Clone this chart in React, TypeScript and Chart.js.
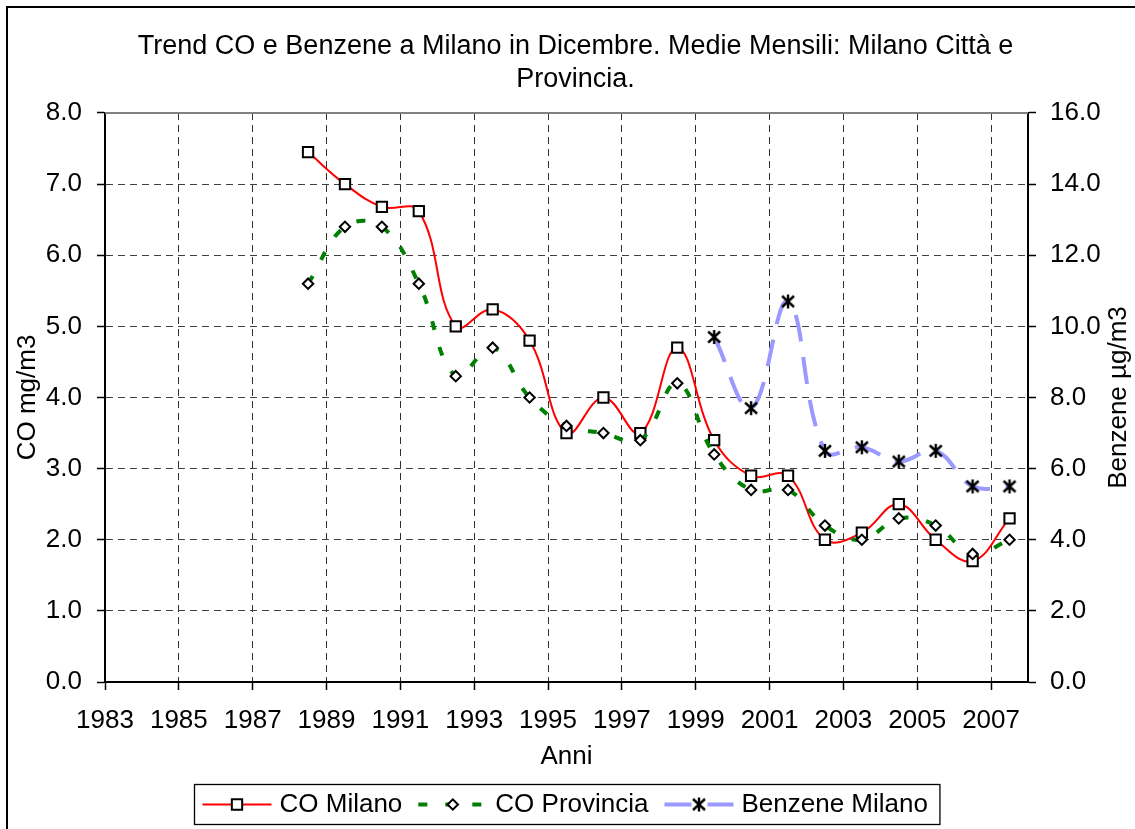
import React, { useEffect, useRef } from 'react';
import { Chart, registerables } from 'chart.js';

Chart.register(...registerables);

// ---- Data ----
const coYears = [1988, 1989, 1990, 1991, 1992, 1993, 1994, 1995, 1996, 1997, 1998, 1999, 2000, 2001, 2002, 2003, 2004, 2005, 2006, 2007];
const coMilano = [7.45, 7.0, 6.68, 6.62, 5.0, 5.24, 4.8, 3.5, 4.0, 3.5, 4.7, 3.4, 2.9, 2.9, 2.0, 2.1, 2.5, 2.0, 1.7, 2.3];
const coProvincia = [5.6, 6.4, 6.4, 5.6, 4.3, 4.7, 4.0, 3.6, 3.5, 3.4, 4.2, 3.2, 2.7, 2.7, 2.2, 2.0, 2.3, 2.2, 1.8, 2.0];
const benzeneYears = [1999, 2000, 2001, 2002, 2003, 2004, 2005, 2006, 2007];
const benzeneMilano = [9.7, 7.7, 10.7, 6.5, 6.6, 6.2, 6.5, 5.5, 5.5];
const xTickYears = [1983, 1985, 1987, 1989, 1991, 1993, 1995, 1997, 1999, 2001, 2003, 2005, 2007];
const titleLines = ['Trend CO e Benzene a Milano in Dicembre. Medie Mensili: Milano Città e', 'Provincia.'];
const seriesLabels = ['CO Milano', 'CO Provincia', 'Benzene Milano'];
const xTitle = 'Anni';
const yLeftTitle = 'CO mg/m3';
const yRightTitle = 'Benzene µg/m3';

// monthly December means are plotted at mid-year of their year
const MID_YEAR = 0.5;

const FONT = '"Liberation Sans", Arial, Helvetica, sans-serif';

function makeStarCanvas(): HTMLCanvasElement {
  const c = document.createElement('canvas');
  c.width = 16;
  c.height = 16;
  const g = c.getContext('2d')!;
  g.strokeStyle = '#000';
  g.lineWidth = 2.4;
  g.beginPath();
  g.moveTo(2, 2.5); g.lineTo(14, 13.5);
  g.moveTo(14, 2.5); g.lineTo(2, 13.5);
  g.moveTo(8, 1); g.lineTo(8, 15);
  g.stroke();
  return c;
}

function drawMarker(ctx: CanvasRenderingContext2D, ds: any, x: number, y: number) {
  const style = ds.pointStyle;
  const r = ds.pointRadius;
  if (style instanceof HTMLCanvasElement) {
    ctx.drawImage(style, x - style.width / 2, y - style.height / 2);
    return;
  }
  ctx.save();
  ctx.setLineDash([]);
  ctx.fillStyle = ds.pointBackgroundColor;
  ctx.strokeStyle = ds.pointBorderColor;
  ctx.lineWidth = ds.pointBorderWidth;
  ctx.beginPath();
  if (style === 'rect') {
    const s = Math.SQRT1_2 * r;
    ctx.rect(x - s, y - s, 2 * s, 2 * s);
  } else {
    ctx.moveTo(x - r, y);
    ctx.lineTo(x, y - r);
    ctx.lineTo(x + r, y);
    ctx.lineTo(x, y + r);
    ctx.closePath();
  }
  ctx.fill();
  ctx.stroke();
  ctx.restore();
}

const excelPlugin = {
  id: 'excelDecor',
  beforeDatasetsDraw(chart: any) {
    const { ctx, chartArea } = chart;
    ctx.save();
    ctx.strokeStyle = '#808080';
    ctx.lineWidth = 2;
    ctx.beginPath();
    ctx.moveTo(chartArea.left, chartArea.top);
    ctx.lineTo(chartArea.right, chartArea.top);
    ctx.stroke();
    ctx.restore();
  },
  afterDraw(chart: any) {
    const { ctx, chartArea } = chart;
    // right axis title (reads bottom-to-top)
    ctx.save();
    ctx.font = `26px ${FONT}`;
    ctx.fillStyle = '#000';
    ctx.textAlign = 'center';
    ctx.textBaseline = 'middle';
    ctx.translate(1119, (chartArea.top + chartArea.bottom) / 2);
    ctx.rotate(-Math.PI / 2);
    ctx.fillText(yRightTitle, 0, 0);
    ctx.restore();

    // legend box
    ctx.save();
    ctx.font = `26px ${FONT}`;
    const dss = chart.data.datasets;
    const widths = dss.map((d: any) => ctx.measureText(d.label).width);
    const lineLen = 69, gap = 8, spacing = 16, padL = 8, padR = 12;
    let total = padL + padR + spacing * (dss.length - 1);
    widths.forEach((w: number) => { total += lineLen + gap + w; });
    const cx = (chartArea.left + chartArea.right) / 2;
    const left = Math.round(cx - total / 2) + 0.5;
    const top = 784.5;
    const h = 40;
    ctx.fillStyle = '#fff';
    ctx.fillRect(left, top, total, h);
    ctx.strokeStyle = '#000';
    ctx.lineWidth = 1.3;
    ctx.strokeRect(left, top, total, h);
    const cy = top + h / 2;
    let x = left + padL;
    dss.forEach((d: any, i: number) => {
      ctx.save();
      ctx.strokeStyle = d.borderColor;
      ctx.lineWidth = d.borderWidth;
      ctx.setLineDash(d.borderDash || []);
      ctx.beginPath();
      ctx.moveTo(x, cy);
      ctx.lineTo(x + lineLen, cy);
      ctx.stroke();
      ctx.restore();
      drawMarker(ctx, d, x + lineLen / 2, cy);
      ctx.fillStyle = '#000';
      ctx.textAlign = 'left';
      ctx.textBaseline = 'middle';
      ctx.fillText(d.label, x + lineLen + gap, cy);
      x += lineLen + gap + widths[i] + spacing;
    });
    ctx.restore();
  },
};

export default function App() {
  const ref = useRef<HTMLCanvasElement | null>(null);

  useEffect(() => {
    if (!ref.current) return;
    const star = makeStarCanvas();
    const chart = new Chart(ref.current, {
      type: 'line',
      data: {
        datasets: [
          {
            label: seriesLabels[0],
            data: coYears.map((yr, i) => ({ x: yr + MID_YEAR, y: coMilano[i] })),
            yAxisID: 'yL',
            borderColor: '#ff0000',
            borderWidth: 2,
            tension: 0.4,
            pointStyle: 'rect',
            pointRadius: 7.3,
            pointBackgroundColor: '#ffffff',
            pointBorderColor: '#000000',
            pointBorderWidth: 2,
            order: 3,
          } as any,
          {
            label: seriesLabels[1],
            data: coYears.map((yr, i) => ({ x: yr + MID_YEAR, y: coProvincia[i] })),
            yAxisID: 'yL',
            borderColor: '#008000',
            borderWidth: 4,
            borderDash: [9, 18],
            tension: 0.4,
            pointStyle: 'rectRot',
            pointRadius: 5.2,
            pointBackgroundColor: '#ffffff',
            pointBorderColor: '#000000',
            pointBorderWidth: 2,
            order: 2,
          } as any,
          {
            label: seriesLabels[2],
            data: benzeneYears.map((yr, i) => ({ x: yr + MID_YEAR, y: benzeneMilano[i] })),
            yAxisID: 'yR',
            borderColor: '#9999ff',
            borderWidth: 4,
            borderDash: [27, 16],
            tension: 0.4,
            pointStyle: star,
            pointRadius: 8,
            pointBackgroundColor: '#000000',
            pointBorderColor: '#000000',
            pointBorderWidth: 2,
            order: 1,
          } as any,
        ],
      },
      options: {
        animation: false,
        responsive: false,
        devicePixelRatio: 1,
        events: [],
        layout: { padding: { left: 16, right: 0, top: 0, bottom: 57 } },
        plugins: {
          legend: { display: false },
          tooltip: { enabled: false },
          title: {
            display: true,
            text: titleLines,
            color: '#000',
            font: { family: FONT, size: 27, weight: 'normal', lineHeight: 1.222 },
            padding: { top: 30, bottom: 17 },
          },
        },
        scales: {
          x: {
            type: 'linear',
            min: 1983,
            max: 2008,
            afterBuildTicks: (scale: any) => {
              scale.ticks = xTickYears.map((v) => ({ value: v }));
            },
            afterFit: (scale: any) => { scale.height = 90; },
            ticks: {
              autoSkip: false,
              maxRotation: 0,
              padding: 15,
              color: '#000',
              font: { family: FONT, size: 26 },
              callback: (v: any) => String(v),
            },
            grid: {
              color: '#303030',
              lineWidth: 1,
              tickLength: 8,
              tickColor: '#000',
              tickWidth: 1.5,
              tickBorderDash: [],
            },
            border: { display: true, color: '#000', width: 2, dash: [7, 5] },
            title: {
              display: true,
              text: xTitle,
              color: '#000',
              font: { family: FONT, size: 26, lineHeight: 1.2 },
              padding: { top: 0, bottom: 0 },
            },
          },
          yL: {
            type: 'linear',
            position: 'left',
            min: 0,
            max: 8,
            afterFit: (scale: any) => { scale.width = 89; },
            ticks: {
              stepSize: 1,
              padding: 15,
              color: '#000',
              font: { family: FONT, size: 26 },
              callback: (v: any) => Number(v).toFixed(1),
            },
            grid: {
              color: '#404040',
              lineWidth: 1,
              tickLength: 8,
              tickColor: '#000',
              tickWidth: 1.5,
              tickBorderDash: [],
            },
            border: { display: true, color: '#000', width: 2, dash: [7, 5] },
            title: {
              display: true,
              text: yLeftTitle,
              color: '#000',
              font: { family: FONT, size: 26, lineHeight: 1.2 },
              padding: { top: -4, bottom: 0 },
            },
          },
          yR: {
            type: 'linear',
            position: 'right',
            min: 0,
            max: 16,
            afterFit: (scale: any) => { scale.width = 107; },
            ticks: {
              stepSize: 2,
              padding: 14,
              color: '#000',
              font: { family: FONT, size: 26 },
              callback: (v: any) => Number(v).toFixed(1),
            },
            grid: {
              drawOnChartArea: false,
              tickLength: 8,
              tickColor: '#000',
              tickWidth: 1.5,
              tickBorderDash: [],
            },
            border: { display: true, color: '#000', width: 2 },
          },
        },
      },
      plugins: [excelPlugin],
    } as any);
    return () => chart.destroy();
  }, []);

  return (
    <div style={{ position: 'fixed', left: 0, top: 0, width: 1135, height: 829, overflow: 'hidden', background: '#fff' }}>
      <div style={{ position: 'absolute', left: 6, top: 6, width: 1300, height: 1000, border: '2px solid #000', boxSizing: 'border-box' }} />
      <canvas ref={ref} width={1135} height={829} style={{ position: 'absolute', left: 0, top: 0, width: 1135, height: 829 }} />
    </div>
  );
}
